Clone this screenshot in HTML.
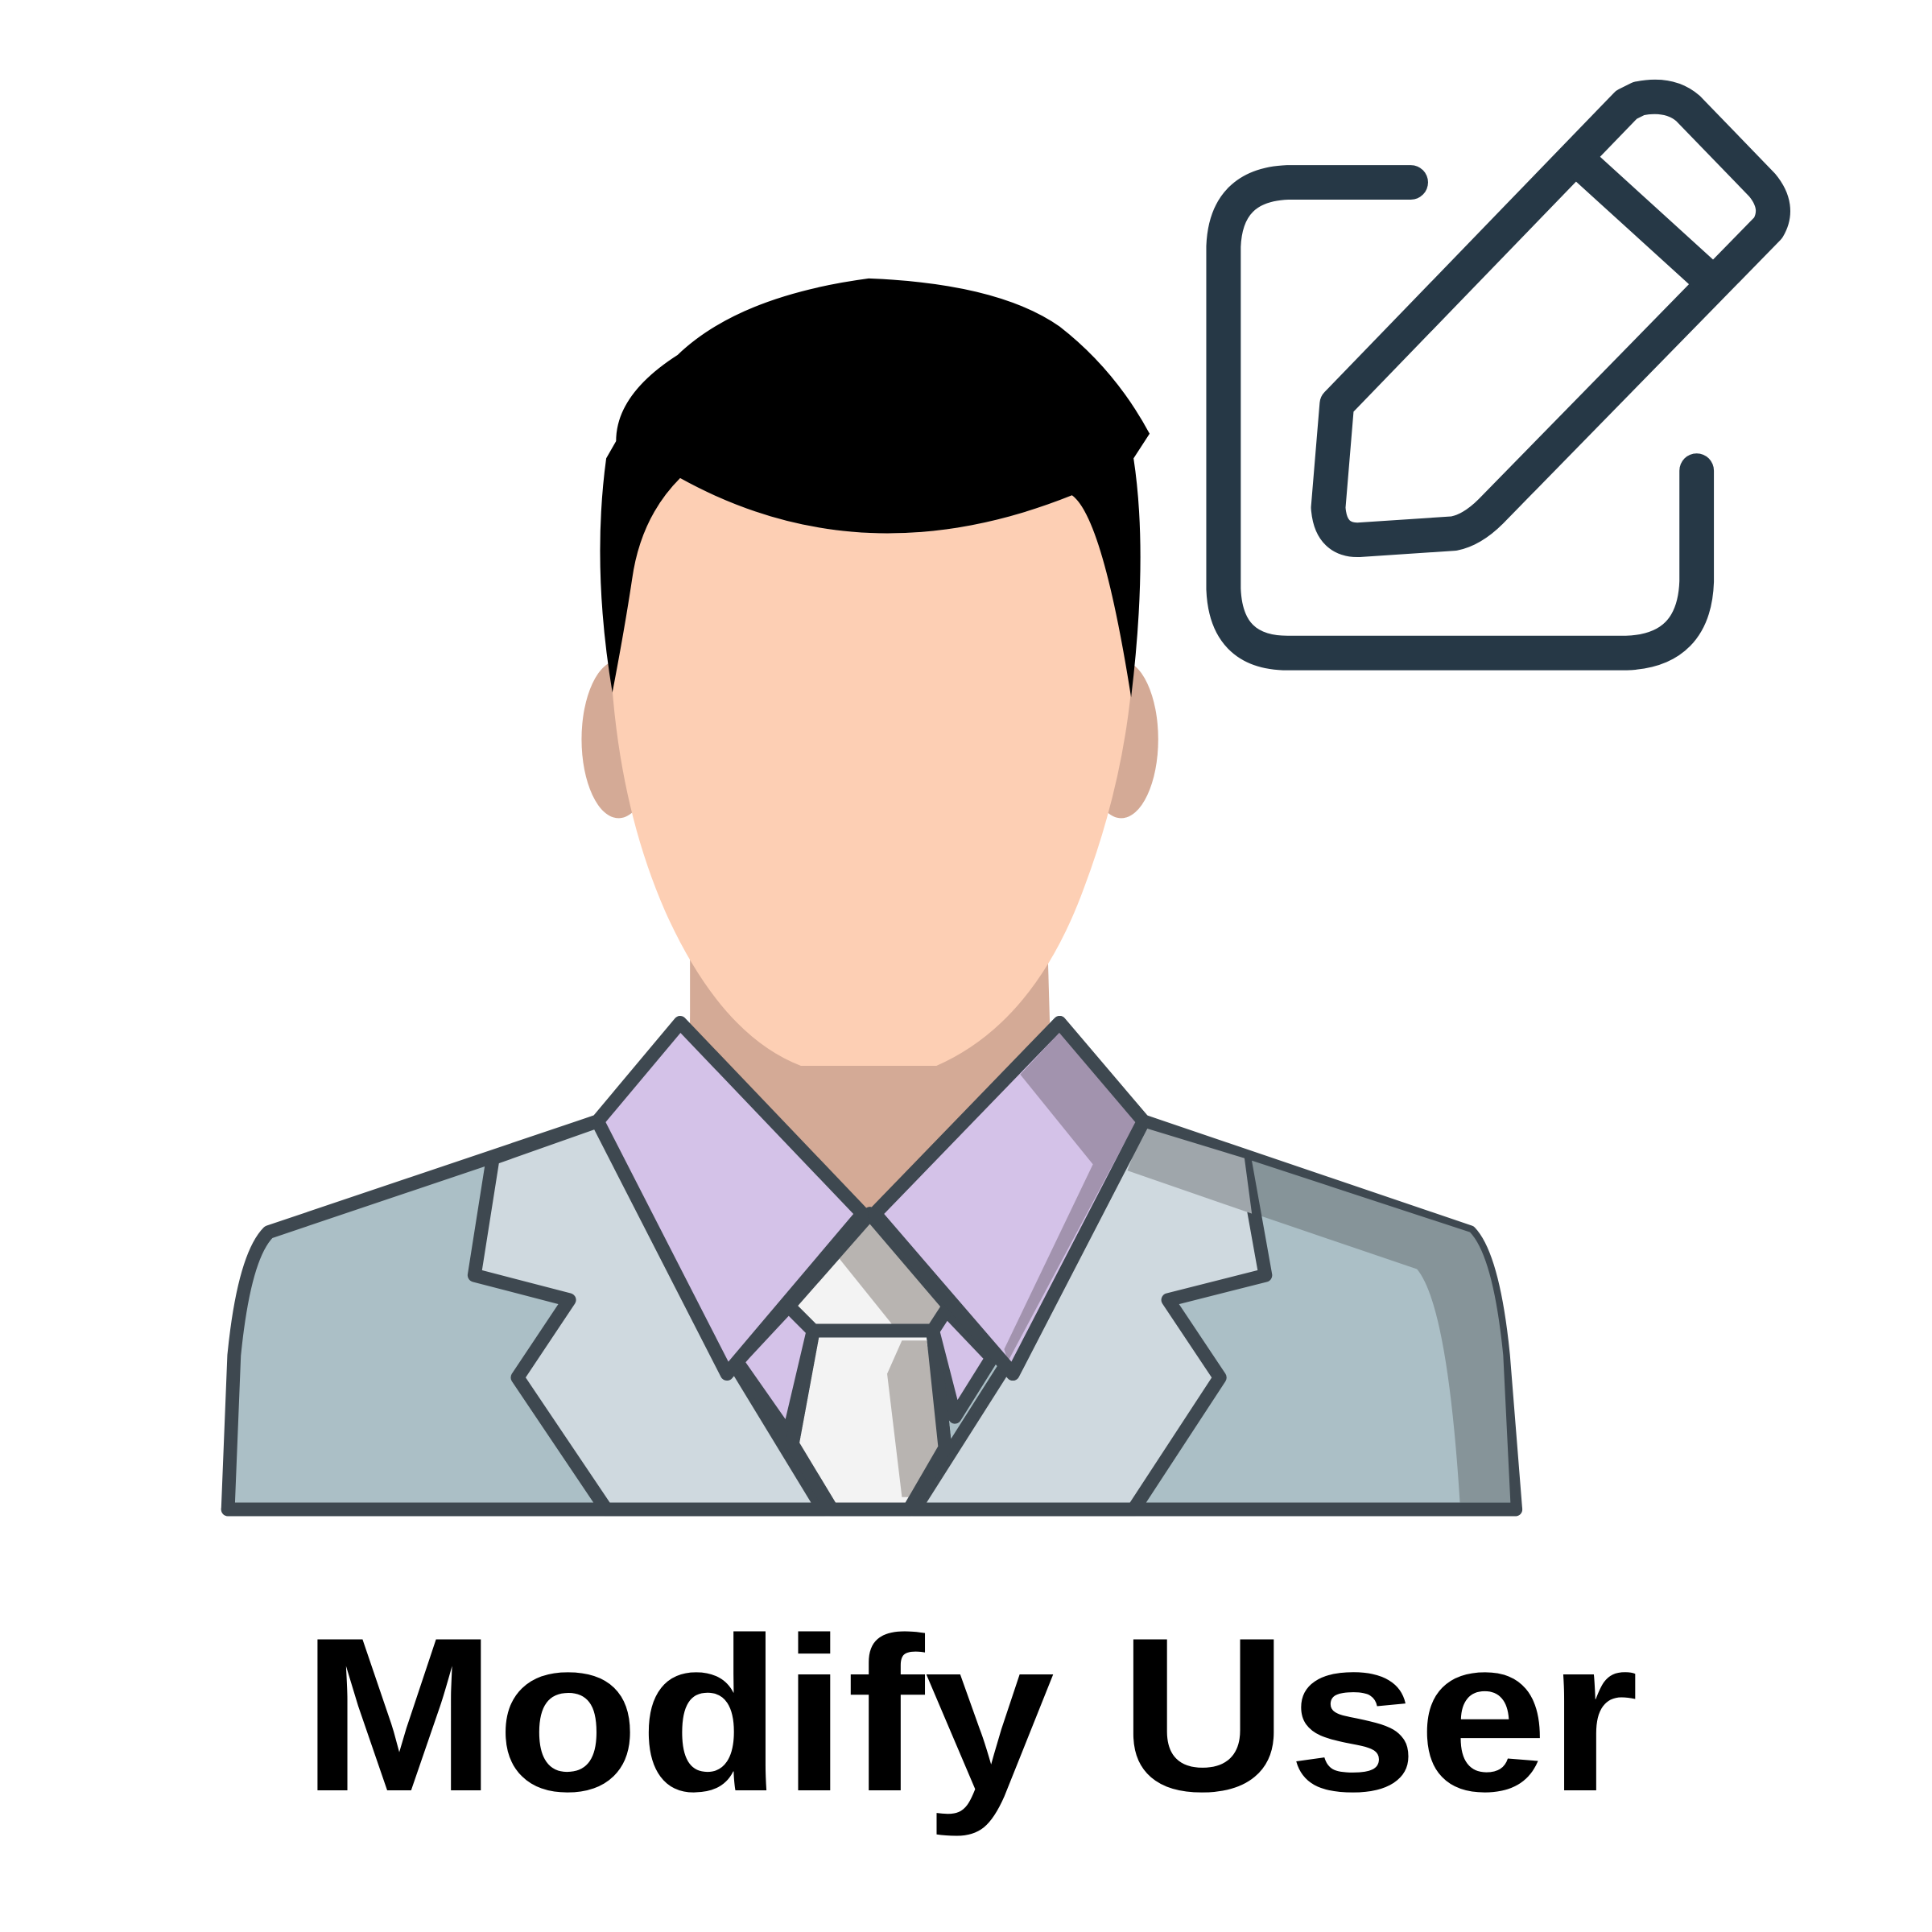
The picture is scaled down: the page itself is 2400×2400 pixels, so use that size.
<!DOCTYPE html>
<html><head><style>html,body{margin:0;padding:0;background:#fff}svg{display:block}</style></head>
<body>
<svg width="2400" height="2400" viewBox="0 0 1568 1568" xmlns="http://www.w3.org/2000/svg">
<rect width="1568" height="1568" fill="#fff"/>
<!-- ears -->
<ellipse cx="502" cy="600" rx="30" ry="64" fill="#d4aa96"/>
<ellipse cx="910" cy="600" rx="30" ry="64" fill="#d4aa96"/>
<!-- neck -->
<path d="M560,760 L850,760 L855,985 L560,985 Z" fill="#d4aa96"/>
<g stroke="#3e4850" stroke-width="11" stroke-linejoin="round" stroke-linecap="round">
<!-- suit body -->
<path d="M185,1225 L190,1100 Q198,1020 218,1000 L485,910 L706,985 L928,910 L1193,1000 Q1212,1020 1220,1100 L1230,1225 Z" fill="#abbfc6"/>
<!-- right shading -->
<path d="M928,910 L1010,940 L1193,1000 Q1212,1020 1220,1100 L1226,1222 L1185,1222 Q1175,1060 1150,1030 L915,950 Z" fill="#869499" stroke="none"/>
<!-- lapels -->
<path d="M400,940 L385,1035 L462,1055 L420,1118 L492,1225 L668,1225 L595,1105 L485,910 Z" fill="#cfd9df"/>
<path d="M1010,940 L1027,1035 L948,1055 L990,1118 L920,1225 L742,1225 L815,1110 L928,910 Z" fill="#cfd9df"/>
<path d="M1010,940 L1016,985 L915,950 L928,915 Z" fill="#9fa6ab" stroke="none"/>
<!-- neck V -->
<path d="M562,760 L850,760 L852,830 L706,990 L560,830 Z" fill="#d4aa96" stroke="none"/>
<!-- face -->
<path d="M497,560 Q505,420 552,388 Q700,470 870,402 Q905,430 918,560 Q910,640 880,720 Q840,830 760,865 L650,865 Q585,840 540,740 Q505,660 497,560 Z" fill="#fdcfb4" stroke="none"/>
<!-- hair -->
<path d="M497,562 Q480,460 492,372 L500,358 Q500,320 550,288 Q600,240 705,226 Q810,230 860,265 Q905,300 933,352 L920,372 Q932,450 918,566 Q895,420 870,402 Q700,470 552,388 Q520,420 513,470 Q507,510 497,562 Z" fill="#000" stroke="none"/>
<!-- shirt -->
<path d="M598,1105 L640,1060 L660,1080 L640,1165 Z" fill="#d4c2e8"/>
<path d="M765,1060 L805,1102 L775,1150 L757,1080 Z" fill="#d4c2e8"/>
<!-- tie knot and tie -->
<path d="M640,1060 L706,985 L770,1060 L757,1080 L660,1080 Z" fill="#f3f3f3"/>
<path d="M680,1020 L706,985 L770,1060 L757,1076 L725,1076 Z" fill="#b8b4b1" stroke="none"/>
<path d="M660,1080 L757,1080 L767,1175 L738,1225 L675,1225 L643,1172 Z" fill="#f3f3f3"/>
<path d="M732,1088 L752,1088 L765,1175 L740,1215 L732,1215 L720,1115 Z" fill="#b8b4b1" stroke="none"/>
<path d="M640,1060 L706,985 L770,1060 L757,1080 L660,1080 Z M660,1080 L643,1172 L675,1225 M757,1080 L767,1175 L738,1225" fill="none"/>
<!-- collars -->
<path d="M485,910 L552,830 L700,985 L590,1115 Z" fill="#d4c2e8"/>
<path d="M928,910 L860,830 L710,985 L822,1115 Z" fill="#d4c2e8"/>
<path d="M860,838 L922,910 L818,1105 L815,1095 L887,945 L828,872 Z" fill="#a293ae" stroke="none"/>
<path d="M928,910 L860,830 L710,985 L822,1115 Z" fill="none"/>
<path d="M185,1225 L1230,1225" fill="none"/>
</g>
<!-- edit icon -->
<g fill="none" stroke="#263846" stroke-width="28" stroke-linecap="round" stroke-linejoin="round">
<path d="M1145,148 L1045,148 Q995,150 993,200 L993,478 Q995,530 1045,530 L1320,530 Q1375,528 1377,472 L1377,382"/>
<path d="M1085,328 L1078,412 Q1080,440 1105,438 L1180,433 Q1195,430 1210,415 L1435,185 Q1445,168 1430,150 L1370,88 Q1355,75 1330,80 L1320,85 L1085,328 Z"/>
<path d="M1283,132 L1382,222"/>
</g>
<text x="245" y="1453" font-family="'Liberation Sans', sans-serif" font-weight="bold" font-size="178" textLength="1085" lengthAdjust="spacingAndGlyphs" fill="#000">Modify User</text>
</svg>
</body></html>
